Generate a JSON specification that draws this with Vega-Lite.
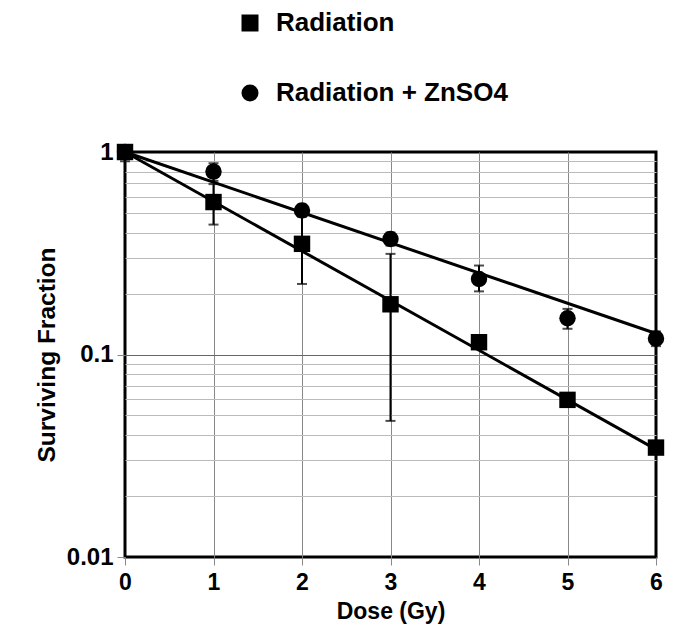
{
  "$schema": "https://vega.github.io/schema/vega-lite/v6.json",
  "width": 531,
  "height": 405,
  "autosize": "none",
  "padding": {"left": 125, "top": 152, "right": 26, "bottom": 78},
  "background": "white",
  "config": {
    "font": "Liberation Sans",
    "view": {"stroke": "black", "strokeWidth": 3},
    "axis": {
      "labelFont": "Liberation Sans",
      "labelFontWeight": "bold",
      "labelColor": "black",
      "titleFont": "Liberation Sans",
      "titleFontWeight": "bold",
      "titleColor": "black",
      "domain": false,
      "tickColor": "#888",
      "tickSize": 8
    }
  },
  "datasets": {
    "points": [
      {"dose": 0, "sf": 1.0, "lo": 0.9, "hi": 1.08, "series": "Radiation"},
      {"dose": 1, "sf": 0.566, "lo": 0.438, "hi": 0.694, "series": "Radiation"},
      {"dose": 2, "sf": 0.352, "lo": 0.223, "hi": 0.481, "series": "Radiation"},
      {"dose": 3, "sf": 0.177, "lo": 0.047, "hi": 0.314, "series": "Radiation"},
      {"dose": 4, "sf": 0.115, "lo": null, "hi": null, "series": "Radiation"},
      {"dose": 5, "sf": 0.0597, "lo": null, "hi": null, "series": "Radiation"},
      {"dose": 6, "sf": 0.0347, "lo": null, "hi": null, "series": "Radiation"},
      {"dose": 0, "sf": 1.0, "lo": 0.95, "hi": 1.05, "series": "Radiation + ZnSO4"},
      {"dose": 1, "sf": 0.8, "lo": 0.72, "hi": 0.88, "series": "Radiation + ZnSO4"},
      {"dose": 2, "sf": 0.514, "lo": 0.48, "hi": 0.55, "series": "Radiation + ZnSO4"},
      {"dose": 3, "sf": 0.372, "lo": 0.345, "hi": 0.4, "series": "Radiation + ZnSO4"},
      {"dose": 4, "sf": 0.236, "lo": 0.205, "hi": 0.275, "series": "Radiation + ZnSO4"},
      {"dose": 5, "sf": 0.151, "lo": 0.134, "hi": 0.168, "series": "Radiation + ZnSO4"},
      {"dose": 6, "sf": 0.12, "lo": 0.11, "hi": 0.13, "series": "Radiation + ZnSO4"}
    ],
    "fits": [
      {"dose": 0, "sf": 1.0, "series": "Radiation"},
      {"dose": 6, "sf": 0.034, "series": "Radiation"},
      {"dose": 0, "sf": 1.0, "series": "Radiation + ZnSO4"},
      {"dose": 6, "sf": 0.127, "series": "Radiation + ZnSO4"}
    ]
  },
  "layer": [
    {
      "data": {"name": "fits"},
      "mark": {"type": "line", "color": "black", "strokeWidth": 3},
      "encoding": {
        "x": {
          "field": "dose", "type": "quantitative",
          "scale": {"domain": [0, 6], "nice": false, "zero": false},
          "axis": {
            "values": [0, 1, 2, 3, 4, 5, 6],
            "format": "d",
            "labelFlush": false,
            "title": "Dose (Gy)",
            "titleFontSize": 23,
            "titlePadding": 6,
            "labelFontSize": 23,
            "labelPadding": 6,
            "grid": true,
            "gridColor": "#888",
            "gridWidth": 1,
            "gridOpacity": {"condition": {"test": "datum.value == 0 || datum.value == 6", "value": 0}, "value": 1}
          }
        },
        "y": {
          "field": "sf", "type": "quantitative",
          "scale": {"type": "log", "domain": [0.01, 1], "nice": false},
          "axis": {
            "values": [0.01, 0.02, 0.03, 0.04, 0.05, 0.06, 0.07, 0.08, 0.09, 0.1, 0.2, 0.3, 0.4, 0.5, 0.6, 0.7, 0.8, 0.9, 1],
            "labelExpr": "datum.value == 1 ? '1' : datum.value == 0.1 ? '0.1' : datum.value == 0.01 ? '0.01' : ''",
            "labelFlush": false,
            "title": "Surviving Fraction",
            "titleFontSize": 24.5,
            "titlePadding": 7,
            "labelFontSize": 24,
            "labelPadding": 4,
            "tickOpacity": {"condition": {"test": "datum.value == 1 || datum.value == 0.1 || datum.value == 0.01", "value": 1}, "value": 0},
            "grid": true,
            "gridWidth": 1,
            "gridColor": {"condition": {"test": "datum.value == 0.1", "value": "#666"}, "value": "#bbb"},
            "gridOpacity": {"condition": {"test": "datum.value == 1 || datum.value == 0.01", "value": 0}, "value": 1}
          }
        },
        "detail": {"field": "series"}
      }
    },
    {
      "data": {"name": "points"},
      "transform": [{"filter": "datum.lo != null"}],
      "mark": {"type": "rule", "color": "black", "strokeWidth": 2},
      "encoding": {
        "x": {"field": "dose", "type": "quantitative"},
        "y": {"field": "lo", "type": "quantitative"},
        "y2": {"field": "hi"}
      }
    },
    {
      "data": {"name": "points"},
      "transform": [{"filter": "datum.lo != null"}],
      "mark": {"type": "tick", "color": "black", "orient": "horizontal", "size": 10, "thickness": 2},
      "encoding": {
        "x": {"field": "dose", "type": "quantitative"},
        "y": {"field": "lo", "type": "quantitative"}
      }
    },
    {
      "data": {"name": "points"},
      "transform": [{"filter": "datum.lo != null"}],
      "mark": {"type": "tick", "color": "black", "orient": "horizontal", "size": 10, "thickness": 2},
      "encoding": {
        "x": {"field": "dose", "type": "quantitative"},
        "y": {"field": "hi", "type": "quantitative"}
      }
    },
    {
      "data": {"name": "points"},
      "mark": {"type": "point", "filled": true, "opacity": 1, "color": "black", "size": 270},
      "encoding": {
        "x": {"field": "dose", "type": "quantitative"},
        "y": {"field": "sf", "type": "quantitative"},
        "shape": {
          "field": "series", "type": "nominal",
          "scale": {"domain": ["Radiation", "Radiation + ZnSO4"], "range": ["square", "circle"]},
          "legend": {
            "title": null,
            "orient": "none",
            "legendX": 112,
            "legendY": -142,
            "padding": 0,
            "labelFont": "Liberation Sans",
            "labelFontWeight": "bold",
            "labelFontSize": 26,
            "labelLimit": 0,
            "labelColor": "black",
            "labelOffset": 13,
            "rowPadding": 44,
            "symbolSize": 289,
            "symbolFillColor": "black",
            "symbolStrokeColor": "black",
            "symbolOpacity": 1
          }
        }
      }
    }
  ]
}
